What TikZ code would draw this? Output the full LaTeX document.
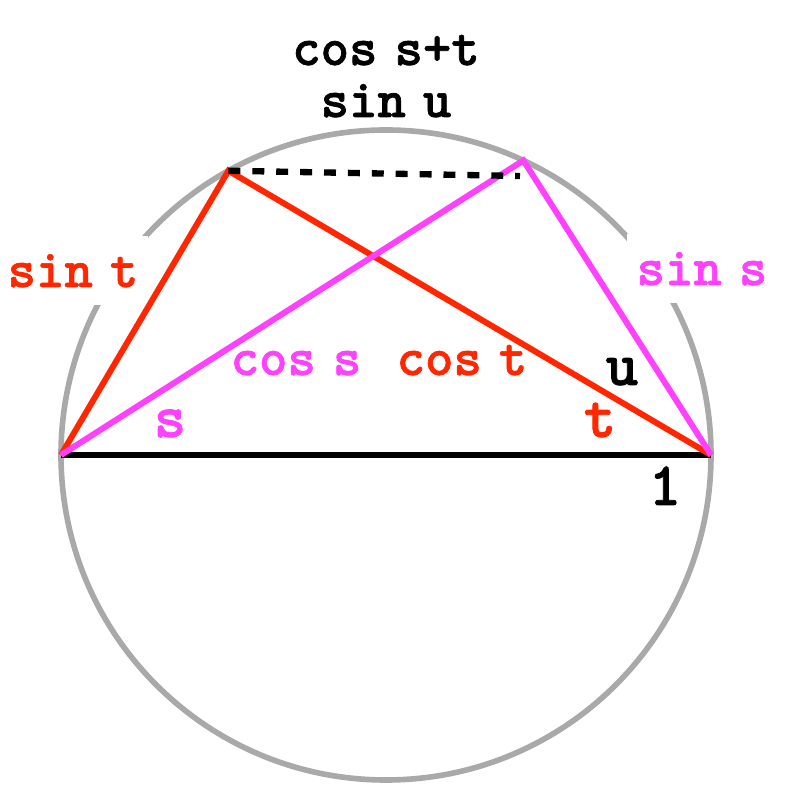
\documentclass[tikz,border=0pt]{standalone}
\usepackage{fontspec}
\newfontfamily\lblfont{lmmonolt10-bold.otf}[WordSpace=0.6, FakeBold=1.2]
\usetikzlibrary{calc}
\definecolor{chordred}{RGB}{255,38,0}
\definecolor{chordpink}{RGB}{255,64,255}
\definecolor{rimgray}{RGB}{169,169,169}
\tikzset{
  trig/.style={font=\lblfont\fontsize{15.4}{17}\selectfont, inner sep=0pt, anchor=base},
  ang/.style={font=\lblfont\fontsize{17.6}{20}\selectfont, inner sep=0pt, anchor=base},
  cutout/.style={fill=white, inner xsep=0.1cm, inner ysep=0.18cm},
}

\begin{document}
\begin{tikzpicture}[line join=miter]
\useasboundingbox (-3.86,-3.51) rectangle (4.02,4.55);

% ============ CIRCLE (unit diameter) ============
\coordinate (Ocen) at (0,0);
\draw[rimgray, line width=1.6pt] (Ocen) circle (3.25);

% side labels sit on white patches, which cut gaps into the circle
\node[trig, cutout, text=chordred]  (sintlbl) at (-3.13,1.68) {sin t};
\node[trig, cutout, text=chordpink] (sinslbl) at (3.16,1.70) {sin s};

% ============ CHORD POINTS ============
\coordinate (A) at (-3.25,0);
\coordinate (B) at (3.25,0);
\coordinate (C) at (119:3.25); % end of the red chord, angle t at B
\coordinate (D) at (65:3.25);  % end of the pink chord, angle s at A
\coordinate (Dend) at (1.34,2.79);

% diameter
\draw[black, line width=1.7pt] (A) -- (B);
% red triangle
\draw[chordred, line width=1.7pt] (A) -- (C) -- (B);
% pink triangle
\draw[chordpink, line width=1.7pt] (A) -- (D) -- (B);
% chord between the two apexes
\draw[black, line width=1.8pt, dash pattern=on 3.4pt off 3.4pt] (C) -- (Dend);

% ============ LABELS ============
\node[trig] (sumlbl)  at (0,3.90) {cos s+t};
\node[trig] (sinulbl) at (0,3.38) {sin u};
\node[trig, chordpink] (cosslbl) at (-0.90,0.80) {cos s};
\node[trig, chordred]  (costlbl) at (0.76,0.80) {cos t};

\node[ang, chordpink] (slbl) at (-2.16,0.18) {s};
\node[ang, chordred]  (tlbl) at (2.14,0.18) {t};
\node[ang]            (ulbl) at (2.36,0.70) {u};
\node[ang]            (onelbl) at (2.79,-0.50) {1};
\end{tikzpicture}
\end{document}
